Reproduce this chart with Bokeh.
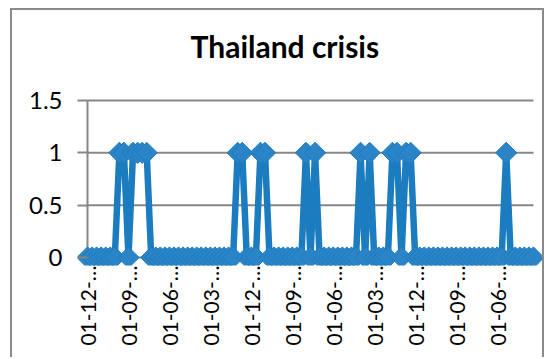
from math import pi
from bokeh.plotting import figure
from bokeh.models import Range1d, FixedTicker
from bokeh.embed import file_html
from bokeh.resources import INLINE

title_text = "Thailand crisis"

# crisis indicator, one value per month (99 months)
crisis = [
    0, 0, 0, 0, 0, 0, 0, 1, 1, 0,
    1, 1, 1, 1, 0, 0, 0, 0, 0, 0,
    0, 0, 0, 0, 0, 0, 0, 0, 0, 0,
    0, 0, 0, 1, 1, 0, 0, 0, 1, 1,
    0, 0, 0, 0, 0, 0, 0, 0, 1, 0,
    1, 0, 0, 0, 0, 0, 0, 0, 0, 0,
    1, 0, 1, 0, 0, 0, 0, 1, 1, 0,
    1, 1, 0, 0, 0, 0, 0, 0, 0, 0,
    0, 0, 0, 0, 0, 0, 0, 0, 0, 0,
    0, 0, 1, 0, 0, 0, 0, 0, 0,
]
months = list(range(len(crisis)))

# category labels shown (every 9th month), truncated as in the original
x_tick_labels = ["01-12-…", "01-09-…", "01-06-…", "01-03-…", "01-12-…", "01-09-…",
                 "01-06-…", "01-03-…", "01-12-…", "01-09-…", "01-06-…"]
x_tick_step = 9
y_ticks = [0, 0.5, 1, 1.5]
y_tick_labels = ["0", "0.5", "1", "1.5"]

BLUE = "#1b7cc0"
GRID = "#878787"
FONT = "Lato"

n = len(crisis)
p = figure(width=534, height=349, output_backend="svg", toolbar_location=None,
           x_range=Range1d(-2.2, n - 1 + 2.42), y_range=Range1d(-0.0764, 1.71),
           min_border_left=65, min_border_right=2, min_border_top=68, min_border_bottom=94)
p.styles = {"margin-left": "10px", "margin-top": "8px",
            "border-left": "2px solid #8a8a8a", "border-top": "2px solid #8a8a8a",
            "border-right": "2px solid #8a8a8a"}
p.outline_line_color = None
p.background_fill_color = "white"
p.border_fill_color = "white"
p.xgrid.visible = False
p.ygrid.visible = False

# title
p.title.text = title_text
p.title.align = "left"
p.title.offset = 113
p.title.standoff = 30
p.title.text_font = FONT
p.title.text_font_style = "bold"
p.title.text_font_size = "30px"
p.title.text_color = "black"

# gridlines across the plot area, and the value-axis line at the first category
last = months[-1]
p.segment(x0=[months[0]] * len(y_ticks), x1=[last] * len(y_ticks), y0=y_ticks, y1=y_ticks,
          line_color=GRID, line_width=2)
p.segment(x0=[months[0]], x1=[months[0]], y0=[y_ticks[0]], y1=[y_ticks[-1]],
          line_color=GRID, line_width=2)

# y axis
ya = p.yaxis[0]
ya.ticker = FixedTicker(ticks=y_ticks)
ya.major_label_overrides = {t: s for t, s in zip(y_ticks, y_tick_labels)}
ya.axis_line_color = None
ya.major_tick_line_color = GRID
ya.major_tick_line_width = 2
ya.major_tick_out = 0
ya.major_tick_in = 10
ya.minor_tick_line_color = None
ya.major_label_standoff = 15
ya.major_label_text_font = FONT
ya.major_label_text_font_size = "24px"
ya.major_label_text_color = "black"

# x axis
xa = p.xaxis[0]
x_ticks = months[::x_tick_step]
xa.ticker = FixedTicker(ticks=x_ticks)
xa.major_label_overrides = {t: s for t, s in zip(x_ticks, x_tick_labels)}
xa.major_label_orientation = pi / 2
xa.axis_line_color = None
xa.major_tick_out = 0
xa.major_tick_in = 0
xa.minor_tick_line_color = None
xa.major_label_standoff = 0
xa.major_label_text_font = FONT
xa.major_label_text_font_size = "21px"
xa.major_label_text_color = "black"

# series
p.line(months, crisis, line_color=BLUE, line_width=6.5)
p.scatter(months, crisis, marker="square", angle=pi / 4, size=15,
          fill_color="#2a84c6", line_color=BLUE, line_width=1)

open("out.html", "w").write(file_html(p, INLINE))
